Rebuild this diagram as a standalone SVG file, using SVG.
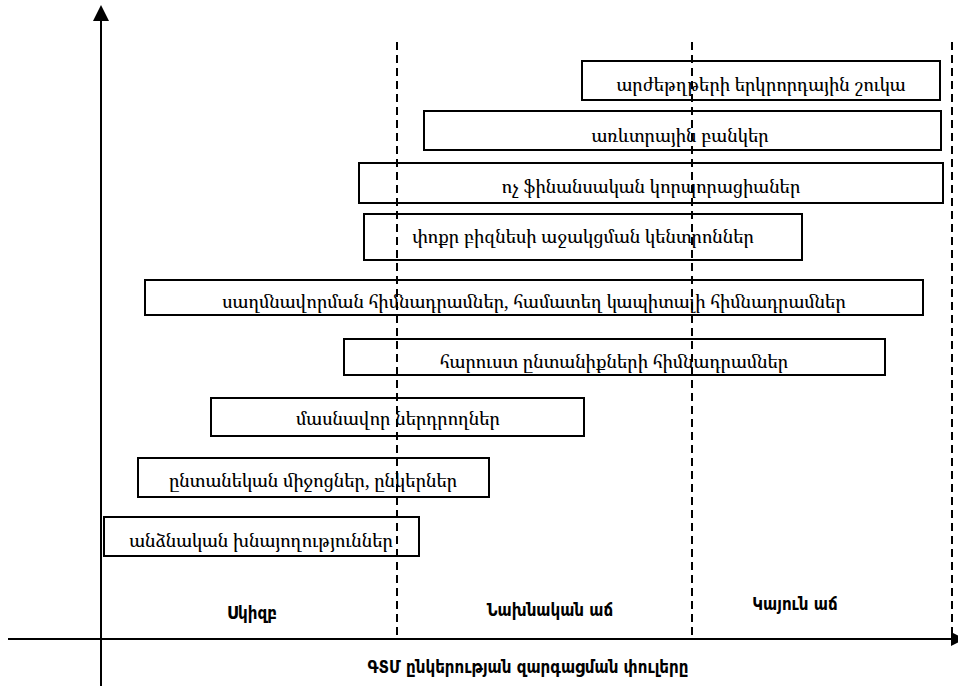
<svg xmlns="http://www.w3.org/2000/svg" width="958" height="686" viewBox="0 0 958 686">
<style>
.box rect{fill:#fff;stroke:#000;stroke-width:2}
.box text{font-family:"Noto Serif Armenian","FreeSerif","DejaVu Serif","DejaVu Sans",serif;font-size:18.2px;fill:#000;text-anchor:middle}
.stage{font-family:"DejaVu Sans Condensed","DejaVu Sans",sans-serif;font-size:16.8px;font-weight:bold;fill:#000;text-anchor:middle}
.axis{stroke:#000;stroke-width:2;fill:none}
.dash{stroke:#000;stroke-width:2;stroke-dasharray:8 5;fill:none}
</style>
<rect width="958" height="686" fill="#fff"/>
<g id="n1" class="box"><rect x="582" y="61" width="358" height="39"/><text x="761" y="91">արժեթղթերի երկրորդային շուկա</text></g>
<g id="n2" class="box"><rect x="424" y="111" width="517" height="39"/><text x="680" y="142">առևտրային  բանկեր</text></g>
<g id="n3" class="box"><rect x="359" y="163" width="584" height="40"/><text x="651" y="193">ոչ ֆինանսական կորպորացիաներ</text></g>
<g id="n4" class="box"><rect x="364" y="214" width="438" height="46"/><text x="583" y="243">փոքր բիզնեսի աջակցման կենտրոններ</text></g>
<g id="n5" class="box"><rect x="145" y="280" width="778" height="35"/><text x="534" y="308">սաղմնավորման հիմնադրամներ, համատեղ կապիտալի հիմնադրամներ</text></g>
<g id="n6" class="box"><rect x="344" y="339" width="541" height="36"/><text x="614" y="368">հարուստ ընտանիքների հիմնադրամներ</text></g>
<g id="n7" class="box"><rect x="211" y="398" width="373" height="38"/><text x="398" y="425">մասնավոր ներդրողներ</text></g>
<g id="n8" class="box"><rect x="138" y="458" width="351" height="39"/><text x="313" y="487">ընտանեկան միջոցներ, ընկերներ</text></g>
<g id="n9" class="box"><rect x="104" y="517" width="315" height="39"/><text x="261" y="547">անձնական խնայողություններ</text></g>
<g id="connectors">
<line class="axis" x1="101" y1="686" x2="101" y2="18"/>
<polygon points="101,5 93,21 109,21" fill="#000"/>
<line class="axis" x1="8" y1="639" x2="954" y2="639"/>
<polygon points="951,632 951,646 965,639" fill="#000"/>
<line class="dash" x1="397" y1="42" x2="397" y2="639"/>
<line class="dash" x1="692" y1="42" x2="692" y2="639"/>
<line class="dash" x1="952" y1="42" x2="952" y2="639"/>
</g>
<g id="labels">
<text class="stage" x="252" y="619">Սկիզբ</text>
<text class="stage" x="550" y="616">Նախնական աճ</text>
<text class="stage" x="795" y="610">Կայուն աճ</text>
<text class="stage" x="528" y="673">ԳՏՄ ընկերության զարգացման փուլերը</text>
</g>
</svg>
